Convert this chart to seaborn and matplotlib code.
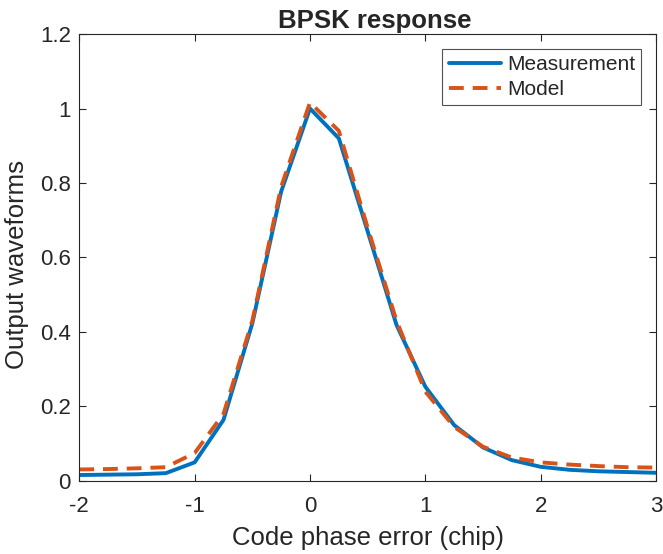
import numpy as np
import pandas as pd
import matplotlib
matplotlib.use("Agg")
import matplotlib.pyplot as plt
import seaborn as sns

x_vals = [-2.0, -1.75, -1.5, -1.25, -1.0, -0.75, -0.5, -0.25, 0.0, 0.25, 0.5, 0.75,
          1.0, 1.25, 1.5, 1.75, 2.0, 2.25, 2.5, 2.75, 3.0]
measurement = [0.016, 0.017, 0.018, 0.021, 0.050, 0.164, 0.423, 0.777, 1.000, 0.920,
               0.670, 0.419, 0.253, 0.150, 0.090, 0.056, 0.038, 0.030, 0.026, 0.024, 0.022]
model = [0.031, 0.032, 0.034, 0.037, 0.075, 0.180, 0.430, 0.790, 1.016, 0.940,
         0.680, 0.430, 0.240, 0.145, 0.092, 0.063, 0.050, 0.044, 0.040, 0.037, 0.036]

xticks = [-2, -1, 0, 1, 2, 3]
yticks = [0, 0.2, 0.4, 0.6, 0.8, 1.0, 1.2]
yticklabels = ["0", "0.2", "0.4", "0.6", "0.8", "1", "1.2"]
xticklabels = ["-2", "-1", "0", "1", "2", "3"]

df = pd.DataFrame({
    "x": x_vals * 2,
    "y": measurement + model,
    "series": ["Measurement"] * len(x_vals) + ["Model"] * len(x_vals),
})

sns.set_style("white")
plt.rcParams["font.family"] = ["Liberation Sans", "DejaVu Sans"]

fig = plt.figure(figsize=(6.63, 5.54), dpi=100)
ax = fig.add_axes([0.1196, 0.1318, 0.8699, 0.8068])

sns.lineplot(data=df, x="x", y="y", hue="series", style="series",
             palette={"Measurement": "#0072BD", "Model": "#D95319"},
             dashes={"Measurement": "", "Model": (3.8, 2.3)},
             linewidth=2.8, ax=ax, legend=True)

ax.set_xlim(-2, 3)
ax.set_ylim(0, 1.2)
ax.set_xticks(xticks)
ax.set_xticklabels(xticklabels)
ax.set_yticks(yticks)
ax.set_yticklabels(yticklabels)
ax.tick_params(direction="in", length=5, width=0.8, colors="#262626",
               labelsize=16, top=True, right=True, bottom=True, left=True,
               labelcolor="#262626")
ax.tick_params(axis="x", pad=11)
ax.tick_params(axis="y", pad=6)
for s in ax.spines.values():
    s.set_visible(True)
    s.set_color("#262626")
    s.set_linewidth(0.8)

ax.set_xlabel("Code phase error (chip)", fontsize=18.5, color="#262626", labelpad=6)
ax.set_ylabel("Output waveforms", fontsize=18.5, color="#262626")
ax.yaxis.set_label_coords(-0.088, 0.485)
ax.set_title("BPSK response", fontsize=18.5, fontweight="bold", pad=4, x=0.512)

leg = ax.legend(loc="upper right", fontsize=15, frameon=True, fancybox=False,
                edgecolor="#262626", handlelength=2.5, handletextpad=0.3,
                borderpad=0.3, labelspacing=0.3, borderaxespad=0.7)
leg.get_frame().set_linewidth(0.8)

fig.savefig("out.png", dpi=100)
